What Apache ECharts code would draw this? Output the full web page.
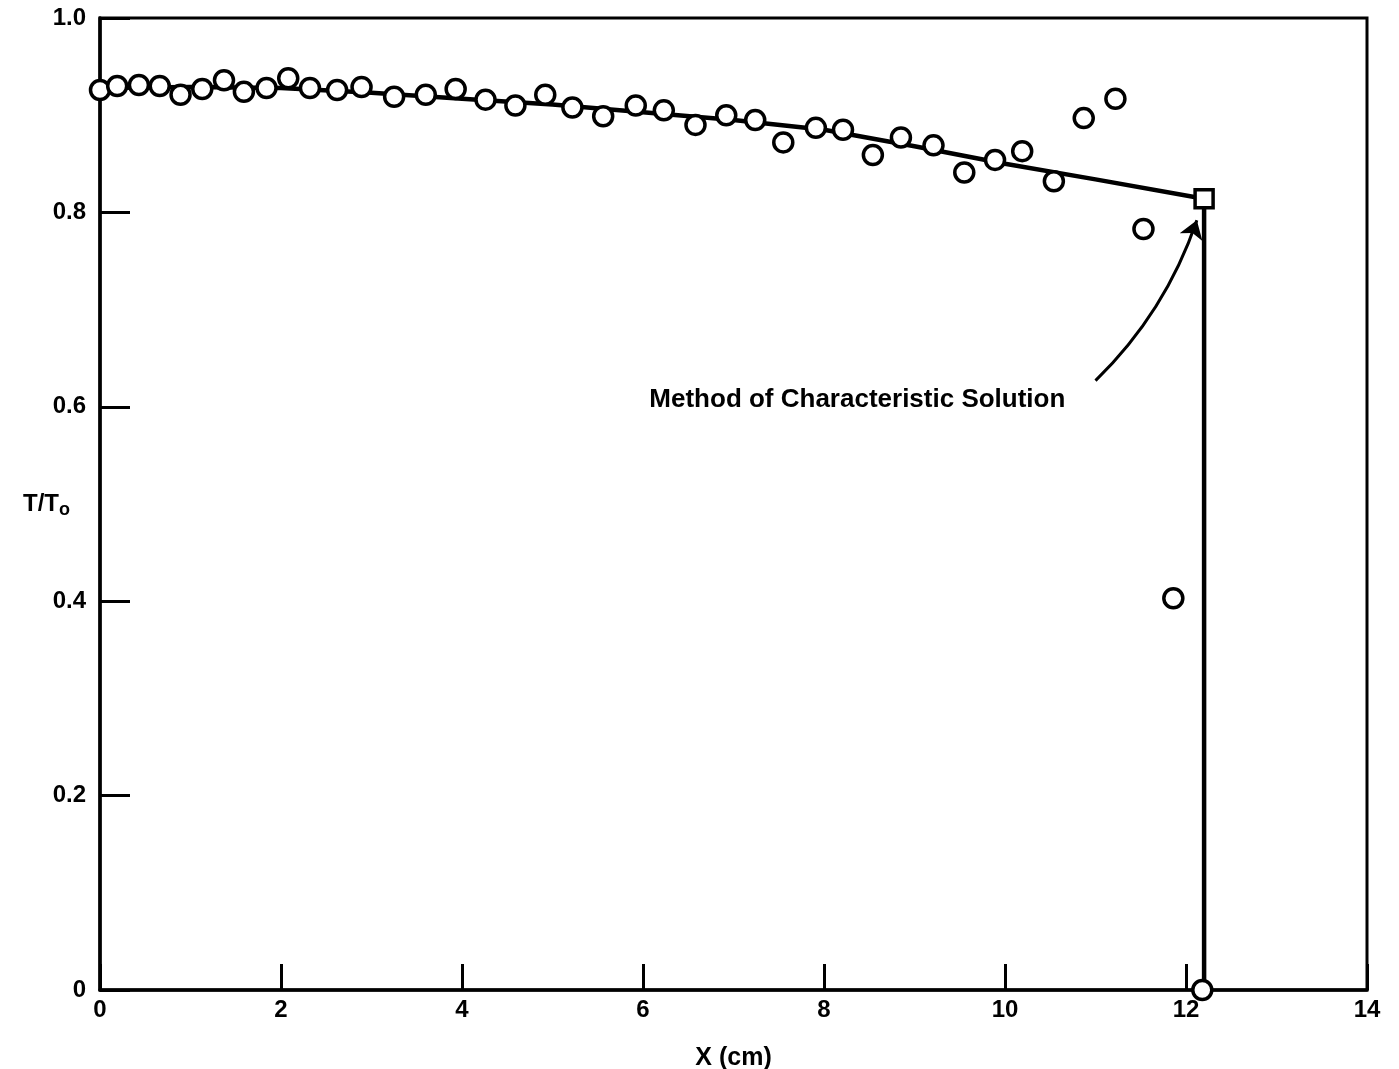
<!DOCTYPE html>
<html>
<head>
<meta charset="utf-8">
<script src="https://cdn.jsdelivr.net/npm/echarts@6/dist/echarts.min.js"></script>
<style>html,body{margin:0;padding:0;background:#fff;}#c{width:1399px;height:1069px;}</style>
</head>
<body>
<div id="c"></div>
<script>
// Measured points (open circles)
const measX = [0, 0.19, 0.43, 0.66, 0.89, 1.13, 1.37, 1.59, 1.84, 2.08, 2.32, 2.62, 2.89, 3.25, 3.60, 3.93, 4.26, 4.59, 4.92, 5.22, 5.56, 5.92, 6.23, 6.58, 6.92, 7.24, 7.55, 7.91, 8.21, 8.54, 8.85, 9.21, 9.55, 9.89, 10.19, 10.54, 10.87, 11.22, 11.53, 11.86, 12.18];
const measY = [0.926, 0.930, 0.931, 0.930, 0.921, 0.927, 0.936, 0.924, 0.928, 0.938, 0.928, 0.926, 0.929, 0.919, 0.921, 0.927, 0.916, 0.910, 0.921, 0.908, 0.899, 0.910, 0.905, 0.890, 0.900, 0.895, 0.872, 0.887, 0.885, 0.859, 0.877, 0.869, 0.841, 0.854, 0.863, 0.832, 0.897, 0.917, 0.783, 0.403, 0.0];
// Method of characteristics solution
const mocX = [0, 1, 2, 3, 4, 5, 6, 7, 8, 9, 10, 11, 12.2, 12.2];
const mocY = [0.928, 0.929, 0.928, 0.923, 0.917, 0.911, 0.903, 0.895, 0.885, 0.868, 0.850, 0.834, 0.814, 0.0];
const endPoint = [12.2, 0.814];
const annText = 'Method of Characteristic Solution';
const annPos = [6.07, 0.607];
const arrowCoords = [[11.0, 0.627], [12.12, 0.792]];
const xTicks = {min: 0, max: 14, interval: 2};
const yTicks = {min: 0, max: 1, interval: 0.2};

const FONT = '"Liberation Sans", Arial, sans-serif';
const chart = echarts.init(document.getElementById('c'), null, {renderer: 'canvas'});
chart.setOption({
  animation: false,
  backgroundColor: '#fff',
  grid: {left: 100, right: 32, top: 18, bottom: 79, containLabel: false, outerBoundsMode: 'none',
    show: true, borderColor: '#000', borderWidth: 3, backgroundColor: 'transparent'},
  xAxis: {
    type: 'value', min: xTicks.min, max: xTicks.max, interval: xTicks.interval,
    name: 'X (cm)', nameLocation: 'middle', nameGap: 56, nameMoveOverlap: false,
    nameTextStyle: {fontFamily: FONT, fontSize: 25, fontWeight: 'bold', color: '#000'},
    axisLine: {show: true, lineStyle: {color: '#000', width: 3.5}},
    axisTick: {show: true, inside: true, length: 26, lineStyle: {color: '#000', width: 3}},
    axisLabel: {fontFamily: FONT, fontSize: 24, fontWeight: 'bold', color: '#000', margin: 8},
    splitLine: {show: false}
  },
  yAxis: {
    type: 'value', min: yTicks.min, max: yTicks.max, interval: yTicks.interval,
    name: 'T/T{sub|o}', nameLocation: 'middle', nameGap: 30, nameRotate: 0, nameMoveOverlap: false,
    nameTextStyle: {fontFamily: FONT, fontSize: 24, fontWeight: 'bold', color: '#000',
      rich: {sub: {fontFamily: FONT, fontSize: 18, fontWeight: 'bold', color: '#000', verticalAlign: 'bottom', padding: [12, 0, 0, 0]}}},
    axisLine: {show: true, lineStyle: {color: '#000', width: 3.5}},
    axisTick: {show: true, inside: true, length: 30, lineStyle: {color: '#000', width: 3}},
    axisLabel: {fontFamily: FONT, fontSize: 24, fontWeight: 'bold', color: '#000', margin: 14,
      formatter: v => v === 0 ? '0' : v.toFixed(1)},
    splitLine: {show: false}
  },
  series: [
    {
      type: 'line', data: mocX.map((x, i) => [x, mocY[i]]), symbol: 'none',
      lineStyle: {color: '#000', width: 4.5}, z: 2
    },
    {
      type: 'scatter', data: measX.map((x, i) => [x, measY[i]]), symbol: 'circle', symbolSize: 19,
      itemStyle: {color: '#fff', borderColor: '#000', borderWidth: 3.5, opacity: 1}, z: 3
    },
    {
      type: 'scatter', data: [endPoint], symbol: 'rect', symbolSize: 18,
      itemStyle: {color: '#fff', borderColor: '#000', borderWidth: 3.5, opacity: 1}, z: 4
    },
    {
      type: 'lines', coordinateSystem: 'cartesian2d', polyline: false,
      data: [{coords: arrowCoords}],
      symbol: ['none', 'arrow'], symbolSize: [10, 18],
      lineStyle: {color: '#000', width: 3, curveness: -0.12, opacity: 1}, z: 5
    },
    {
      type: 'scatter', data: [annPos], symbolSize: 0, silent: true,
      itemStyle: {opacity: 1},
      label: {show: true, position: 'right', distance: 0, formatter: annText,
        fontFamily: FONT, fontSize: 26, fontWeight: 'bold', color: '#000'}, z: 6
    }
  ]
});
</script>
</body>
</html>
